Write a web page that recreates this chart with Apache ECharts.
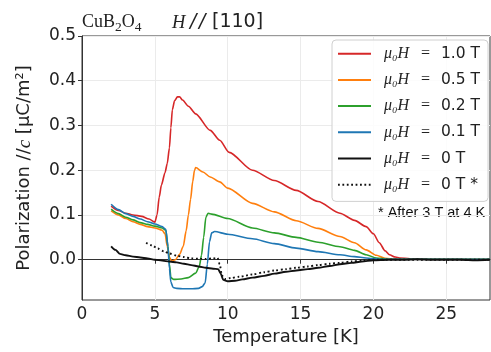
<!DOCTYPE html>
<html>
<head>
<meta charset="utf-8">
<script src="https://cdn.jsdelivr.net/npm/echarts@6/dist/echarts.min.js"></script>
<style>
  html, body { margin: 0; padding: 0; background: #fff; }
  #chart { width: 491px; height: 352px; }
</style>
</head>
<body>
<div id="chart"></div>
<script>
// field labels, in legend order
const fieldNames = ['1.0 T', '0.5 T', '0.2 T', '0.1 T', '0 T', '0 T *'];
const fieldColors = ['#d62728', '#ff7f0e', '#2ca02c', '#1f77b4', '#111111', '#111111'];

// 1.0 T
const tRed = [2, 2.5, 3, 3.5, 4.1, 4.6, 5.0, 5.15, 5.3, 5.45, 5.7, 5.85, 6.0, 6.1, 6.2, 6.35, 6.55, 6.7, 6.9, 7.3, 7.8, 8.8, 9.45, 10.1, 11.7, 13.2, 14.7, 16.2, 17.7, 18.7, 19.5, 20.0, 20.4, 20.8, 21.1, 21.5, 21.8, 22.5, 24, 26, 28];
const pRed = [0.120, 0.110, 0.104, 0.100, 0.097, 0.091, 0.084, 0.100, 0.140, 0.167, 0.195, 0.215, 0.250, 0.295, 0.335, 0.355, 0.364, 0.364, 0.357, 0.343, 0.326, 0.289, 0.267, 0.240, 0.200, 0.177, 0.155, 0.130, 0.104, 0.088, 0.074, 0.058, 0.038, 0.020, 0.011, 0.006, 0.004, 0.002, 0.001, 0.001, 0.001];

// 0.5 T
const tOrange = [2, 2.5, 3, 3.5, 4, 4.5, 5, 5.5, 5.7, 5.85, 6.0, 6.15, 6.4, 6.7, 6.95, 7.15, 7.3, 7.45, 7.6, 7.72, 7.8, 8.3, 8.8, 9.45, 10, 11.7, 13.2, 14.7, 16.2, 17.7, 18.7, 19.5, 20.2, 20.8, 21.5, 23, 25, 28];
const pOrange = [0.109, 0.100, 0.092, 0.085, 0.079, 0.074, 0.071, 0.066, 0.058, 0.030, 0.006, -0.003, 0.000, 0.012, 0.030, 0.065, 0.100, 0.135, 0.175, 0.200, 0.206, 0.196, 0.185, 0.174, 0.160, 0.126, 0.107, 0.087, 0.070, 0.052, 0.038, 0.022, 0.010, 0.003, 0.001, 0.001, 0.001, 0.001];

// 0.2 T
const tGreen = [2, 2.5, 3, 3.5, 4, 4.5, 5, 5.5, 5.75, 5.9, 6.0, 6.1, 6.3, 6.8, 7.3, 7.8, 8.05, 8.2, 8.35, 8.5, 8.65, 8.9, 10, 11.7, 13.2, 14.7, 16.2, 17.7, 18.7, 19.5, 20.2, 21, 23, 25, 28];
const pGreen = [0.113, 0.103, 0.095, 0.089, 0.083, 0.079, 0.075, 0.071, 0.066, 0.030, -0.010, -0.040, -0.044, -0.043, -0.040, -0.030, -0.015, 0.010, 0.050, 0.095, 0.104, 0.102, 0.092, 0.071, 0.060, 0.050, 0.039, 0.029, 0.021, 0.011, 0.004, 0.001, 0.001, 0.001, 0.001];

// 0.1 T
const tBlue = [2, 2.5, 3, 3.5, 4, 4.5, 5, 5.5, 5.75, 5.9, 6.0, 6.1, 6.25, 6.5, 7, 7.5, 8.0, 8.25, 8.45, 8.6, 8.75, 8.9, 9.1, 10, 11.7, 13.2, 14.7, 16.2, 17.7, 18.7, 19.5, 20.5, 23, 25, 28];
const pBlue = [0.124, 0.112, 0.103, 0.097, 0.091, 0.085, 0.080, 0.074, 0.068, 0.030, -0.020, -0.050, -0.062, -0.064, -0.065, -0.065, -0.064, -0.060, -0.052, -0.010, 0.040, 0.060, 0.063, 0.057, 0.047, 0.036, 0.026, 0.018, 0.011, 0.007, 0.004, 0.001, 0.001, 0.001, 0.001];

// 0 T
const tBlack = [2, 2.3, 2.6, 3, 3.5, 4, 4.5, 5, 5.5, 6, 6.5, 7, 7.5, 8, 8.5, 9, 9.35, 9.5, 9.7, 10, 10.5, 11, 11.7, 12.5, 13.2, 14, 14.7, 15.5, 16.2, 17, 17.7, 18.5, 19.2, 20, 21, 22, 23, 24, 25, 26, 27, 28];
const pBlack = [0.030, 0.022, 0.013, 0.010, 0.007, 0.005, 0.003, 0.000, -0.002, -0.004, -0.006, -0.009, -0.012, -0.015, -0.018, -0.020, -0.021, -0.030, -0.045, -0.048, -0.047, -0.044, -0.040, -0.036, -0.031, -0.027, -0.024, -0.021, -0.018, -0.014, -0.010, -0.007, -0.004, -0.001, 0.000, 0.000, 0.001, 0.000, 0.000, 0.000, -0.001, 0.000];

// 0 T, after 3 T at 4 K
const tDotted = [4.4, 4.8, 5.2, 5.6, 6.0, 6.5, 7, 7.5, 8, 8.5, 9, 9.3, 9.45, 9.6, 9.8, 10.2, 10.8, 11.7, 12.5, 13.2, 14, 14.7, 15.5, 16.2, 17, 17.7, 18.5, 19.2, 20, 21, 22, 23, 24, 25, 26, 27, 28];
const pDotted = [0.038, 0.032, 0.025, 0.019, 0.014, 0.009, 0.006, 0.003, 0.002, 0.002, 0.003, 0.004, -0.010, -0.035, -0.043, -0.041, -0.038, -0.033, -0.028, -0.024, -0.021, -0.018, -0.015, -0.012, -0.009, -0.007, -0.004, -0.002, 0.000, 0.000, 0.000, 0.000, 0.000, 0.000, 0.000, 0.000, 0.000];

const xTicks = [0, 5, 10, 15, 20, 25];
const yTicks = [0, 0.1, 0.2, 0.3, 0.4, 0.5];

const curves = [
  [tRed, pRed], [tOrange, pOrange], [tGreen, pGreen],
  [tBlue, pBlue], [tBlack, pBlack], [tDotted, pDotted]
];

const sans = 'DejaVu Sans';
const serif = 'Liberation Serif';

const chart = echarts.init(document.getElementById('chart'));

const series = curves.map(([ts, ps], i) => ({
  name: fieldNames[i],
  type: 'line',
  symbol: 'none',
  showSymbol: false,
  smooth: 0.25,
  smoothMonotone: 'x',
  color: fieldColors[i],
  lineStyle: {
    color: fieldColors[i],
    width: i >= 4 ? 1.9 : 1.6,
    type: i === 5 ? [1.8, 2.6] : 'solid'
  },
  data: ts.map((t, k) => [t, ps[k]])
}));

const option = {
  animation: false,
  backgroundColor: '#fff',
  title: {
    left: 82,
    top: 11,
    padding: 0,
    text: '{s|CuB}{sub|2}{s|O}{sub|4}',
    textStyle: {
      fontWeight: 'normal',
      rich: {
        s: { fontFamily: serif, fontSize: 18, fontWeight: 'normal', color: '#222' },
        sub: { fontFamily: serif, fontSize: 13.5, fontWeight: 'normal', color: '#222', padding: [9, 0, 0, 0] }
      }
    }
  },
  grid: {
    left: 82, right: 1, top: 36, bottom: 52,
    show: true, borderColor: '#333', borderWidth: 1
  },
  legend: {
    left: 332,
    top: 40,
    orient: 'vertical',
    itemWidth: 33,
    itemHeight: 14,
    itemGap: 10.2,
    padding: [5.7, 8, 8.7, 5],
    backgroundColor: 'rgba(255,255,255,0.85)',
    borderColor: '#d0d0d0',
    borderWidth: 1,
    borderRadius: 4,
    itemStyle: { opacity: 0 },
    data: fieldNames,
    formatter: name => '{m|μ₀H}{e|=}{n|' + name + '}',
    textStyle: {
      rich: {
        m: { fontFamily: serif, fontStyle: 'italic', fontSize: 16, color: '#222', width: 37, padding: [0, 0, 0, 8] },
        e: { fontFamily: serif, fontSize: 16, color: '#222', width: 20 },
        n: { fontFamily: sans, fontSize: 15.5, color: '#222' }
      }
    }
  },
  graphic: [
    {
      type: 'text', left: 172, top: 13.5,
      style: { text: 'H', font: 'italic 18.5px "Liberation Serif"', fill: '#222' }
    },
    {
      type: 'text', left: 190, top: 12.5,
      style: { text: '/', font: 'italic 19px "DejaVu Sans"', fill: '#222' }
    },
    {
      type: 'text', left: 199, top: 12.5,
      style: { text: '/', font: 'italic 19px "DejaVu Sans"', fill: '#222' }
    },
    {
      type: 'text', left: 212, top: 12.5,
      style: { text: '[110]', font: '19px "DejaVu Sans"', fill: '#222' }
    },
    {
      type: 'text', left: 378, top: 205,
      style: { text: '* After 3 T at 4 K', font: '14.5px "Liberation Sans"', fill: '#111' }
    }
  ],
  xAxis: {
    type: 'value',
    min: 0,
    max: 28,
    interval: 5,
    name: 'Temperature [K]',
    nameLocation: 'middle',
    nameGap: 26,
    nameTextStyle: { fontFamily: sans, fontSize: 18, color: '#222' },
    axisLine: { show: true, lineStyle: { color: '#333', width: 1 } },
    axisTick: { show: true, length: 4, lineStyle: { color: '#333' }, customValues: xTicks },
    axisLabel: { fontFamily: sans, fontSize: 17, color: '#222', margin: 6, customValues: xTicks },
    splitLine: { show: true, lineStyle: { color: '#ebebeb', width: 1 } }
  },
  yAxis: {
    type: 'value',
    min: -0.09,
    max: 0.5,
    name: '{n|Polarization //}{c|c}{n| [μC/m²]}',
    nameLocation: 'middle',
    nameRotate: 90,
    nameGap: 48,
    nameTextStyle: {
      rich: {
        n: { fontFamily: sans, fontSize: 18, color: '#222' },
        c: { fontFamily: serif, fontStyle: 'italic', fontSize: 19, color: '#222' }
      }
    },
    axisLine: { show: true, lineStyle: { color: '#333', width: 1 } },
    axisTick: { show: true, length: 4, lineStyle: { color: '#333' }, customValues: yTicks },
    axisLabel: {
      fontFamily: sans, fontSize: 17, color: '#222', margin: 6,
      customValues: yTicks,
      formatter: v => v.toFixed(1)
    },
    splitLine: { show: true, lineStyle: { color: '#ebebeb', width: 1 } }
  },
  series: series
};

chart.setOption(option);
</script>
</body>
</html>
